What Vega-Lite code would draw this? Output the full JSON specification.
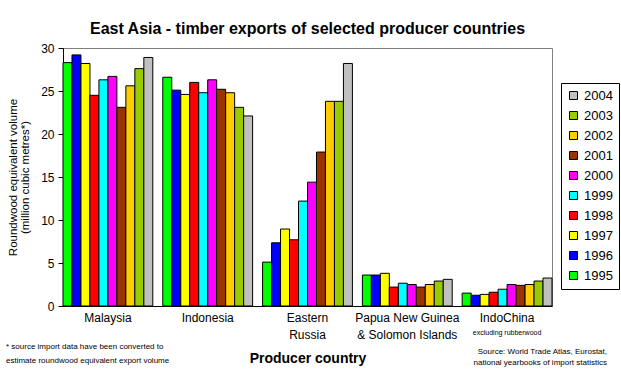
{
  "$schema": "https://vega.github.io/schema/vega-lite/v6.json",
  "autosize": {"type": "none"},
  "width": 489,
  "height": 258,
  "padding": {"left": 63, "top": 48, "right": 69, "bottom": 69},
  "background": "white",
  "config": {
    "font": "Liberation Sans",
    "view": {"stroke": "#808080", "strokeWidth": 1},
    "axis": {"domainColor": "black", "tickColor": "black", "labelColor": "black", "titleColor": "black", "labelFont": "Liberation Sans", "titleFont": "Liberation Sans"}
  },
  "title": {
    "text": "East Asia - timber exports of selected producer countries",
    "fontSize": 16,
    "fontWeight": "bold",
    "font": "Liberation Sans",
    "color": "black",
    "anchor": "middle",
    "offset": 5
  },
  "data": {
    "values": [
      {"country": "Malaysia", "year": "1995", "value": 28.3},
      {"country": "Malaysia", "year": "1996", "value": 29.2},
      {"country": "Malaysia", "year": "1997", "value": 28.2},
      {"country": "Malaysia", "year": "1998", "value": 24.5},
      {"country": "Malaysia", "year": "1999", "value": 26.3},
      {"country": "Malaysia", "year": "2000", "value": 26.7},
      {"country": "Malaysia", "year": "2001", "value": 23.1},
      {"country": "Malaysia", "year": "2002", "value": 25.6},
      {"country": "Malaysia", "year": "2003", "value": 27.6},
      {"country": "Malaysia", "year": "2004", "value": 28.9},
      {"country": "Indonesia", "year": "1995", "value": 26.6},
      {"country": "Indonesia", "year": "1996", "value": 25.1},
      {"country": "Indonesia", "year": "1997", "value": 24.6},
      {"country": "Indonesia", "year": "1998", "value": 26.0},
      {"country": "Indonesia", "year": "1999", "value": 24.8},
      {"country": "Indonesia", "year": "2000", "value": 26.3},
      {"country": "Indonesia", "year": "2001", "value": 25.2},
      {"country": "Indonesia", "year": "2002", "value": 24.8},
      {"country": "Indonesia", "year": "2003", "value": 23.1},
      {"country": "Indonesia", "year": "2004", "value": 22.1},
      {"country": "Eastern Russia", "year": "1995", "value": 5.1},
      {"country": "Eastern Russia", "year": "1996", "value": 7.35},
      {"country": "Eastern Russia", "year": "1997", "value": 8.95},
      {"country": "Eastern Russia", "year": "1998", "value": 7.7},
      {"country": "Eastern Russia", "year": "1999", "value": 12.2},
      {"country": "Eastern Russia", "year": "2000", "value": 14.4},
      {"country": "Eastern Russia", "year": "2001", "value": 17.9},
      {"country": "Eastern Russia", "year": "2002", "value": 23.8},
      {"country": "Eastern Russia", "year": "2003", "value": 23.8},
      {"country": "Eastern Russia", "year": "2004", "value": 28.2},
      {"country": "Papua New Guinea & Solomon Islands", "year": "1995", "value": 3.6},
      {"country": "Papua New Guinea & Solomon Islands", "year": "1996", "value": 3.6},
      {"country": "Papua New Guinea & Solomon Islands", "year": "1997", "value": 3.8},
      {"country": "Papua New Guinea & Solomon Islands", "year": "1998", "value": 2.2},
      {"country": "Papua New Guinea & Solomon Islands", "year": "1999", "value": 2.65},
      {"country": "Papua New Guinea & Solomon Islands", "year": "2000", "value": 2.5},
      {"country": "Papua New Guinea & Solomon Islands", "year": "2001", "value": 2.2},
      {"country": "Papua New Guinea & Solomon Islands", "year": "2002", "value": 2.5},
      {"country": "Papua New Guinea & Solomon Islands", "year": "2003", "value": 2.9},
      {"country": "Papua New Guinea & Solomon Islands", "year": "2004", "value": 3.1},
      {"country": "IndoChina", "year": "1995", "value": 1.5},
      {"country": "IndoChina", "year": "1996", "value": 1.25},
      {"country": "IndoChina", "year": "1997", "value": 1.35},
      {"country": "IndoChina", "year": "1998", "value": 1.6},
      {"country": "IndoChina", "year": "1999", "value": 1.95},
      {"country": "IndoChina", "year": "2000", "value": 2.5},
      {"country": "IndoChina", "year": "2001", "value": 2.4},
      {"country": "IndoChina", "year": "2002", "value": 2.5},
      {"country": "IndoChina", "year": "2003", "value": 2.9},
      {"country": "IndoChina", "year": "2004", "value": 3.25}
    ]
  },
  "layer": [
    {
      "mark": {"type": "bar", "stroke": "black", "strokeWidth": 1},
      "encoding": {
        "x": {
          "field": "country",
          "type": "nominal",
          "sort": null,
          "scale": {"paddingInner": 0.1, "paddingOuter": 0},
          "axis": {
            "title": "Producer country",
            "titleFontSize": 14,
            "titleFontWeight": "bold",
            "titlePadding": 11,
            "labelAngle": 0,
            "labelFontSize": 12,
            "labelLineHeight": 17,
            "labelPadding": 6,
            "ticks": false,
            "labelExpr": "datum.label == 'Eastern Russia' ? ['Eastern', 'Russia'] : datum.label == 'Papua New Guinea & Solomon Islands' ? ['Papua New Guinea', '& Solomon Islands'] : datum.label"
          }
        },
        "xOffset": {"field": "year", "type": "nominal", "sort": "ascending", "scale": {"paddingInner": 0, "paddingOuter": 0}},
        "y": {
          "field": "value",
          "type": "quantitative",
          "scale": {"domain": [0, 30], "nice": false},
          "axis": {
            "values": [0, 5, 10, 15, 20, 25, 30],
            "grid": false,
            "tickSize": 5,
            "labelFontSize": 12,
            "labelPadding": 4,
            "title": ["Roundwood equivalent volume", "(million cubic metres*)"],
            "titleFontSize": 11.5,
            "titleFontWeight": "normal",
            "titleLineHeight": 12,
            "titlePadding": 10
          }
        },
        "color": {
          "field": "year",
          "type": "nominal",
          "scale": {
            "domain": ["2004", "2003", "2002", "2001", "2000", "1999", "1998", "1997", "1996", "1995"],
            "range": ["#C0C0C0", "#99CC00", "#FFCC00", "#993300", "#FF00FF", "#00FFFF", "#FF0000", "#FFFF00", "#0000FF", "#00FF00"]
          },
          "legend": {
            "title": null,
            "orient": "none",
            "legendX": 498,
            "legendY": 35,
            "strokeColor": "black",
            "fillColor": "white",
            "padding": 6,
            "symbolType": "square",
            "symbolSize": 64,
            "symbolStrokeColor": "black",
            "symbolStrokeWidth": 1,
            "labelFontSize": 13,
            "labelFont": "Liberation Sans",
            "labelColor": "black",
            "rowPadding": 6,
            "labelOffset": 4
          }
        }
      }
    },
    {
      "data": {"values": [{}]},
      "mark": {"type": "text", "text": ["*  source import data have been converted to", "estimate roundwood equivalent export volume"], "align": "left", "baseline": "middle", "font": "Liberation Sans", "fontSize": 8, "lineHeight": 14, "dx": -57, "color": "black"},
      "encoding": {
        "x": {"datum": "Malaysia", "bandPosition": 0},
        "y": {"datum": -4.77}
      }
    },
    {
      "data": {"values": [{}]},
      "mark": {"type": "text", "text": ["Source:  World Trade Atlas, Eurostat,", "national yearbooks of import statistics"], "align": "right", "baseline": "middle", "font": "Liberation Sans", "fontSize": 8, "lineHeight": 11, "dx": 55, "color": "black"},
      "encoding": {
        "x": {"datum": "IndoChina", "bandPosition": 1},
        "y": {"datum": -5.3}
      }
    },
    {
      "data": {"values": [{}]},
      "mark": {"type": "text", "text": "excluding rubberwood", "align": "center", "baseline": "middle", "font": "Liberation Sans", "fontSize": 7, "color": "black"},
      "encoding": {
        "x": {"datum": "IndoChina", "bandPosition": 0.5},
        "y": {"datum": -3.15}
      }
    }
  ]
}
